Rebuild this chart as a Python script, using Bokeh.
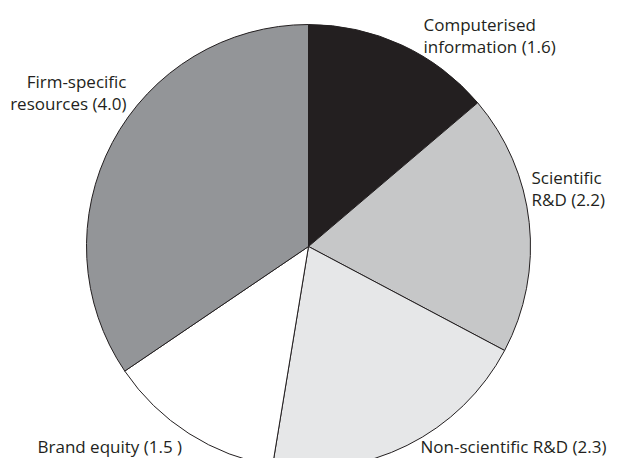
import math
from bokeh.plotting import figure
from bokeh.models import Range1d, ColumnDataSource
from bokeh.core.properties import value
from bokeh.embed import file_html
from bokeh.resources import INLINE

# Data
categories = ["Computerised information", "Scientific R&D", "Non-scientific R&D",
              "Brand equity", "Firm-specific resources"]
values = [1.6, 2.2, 2.3, 1.5, 4.0]
label_lines = [["Computerised", "information (1.6)"],
               ["Scientific", "R&D (2.2)"],
               ["Non-scientific R&D (2.3)"],
               ["Brand equity (1.5 )"],
               ["Firm-specific", "resources (4.0)"]]
colors = ["#231f20", "#c6c7c8", "#e6e7e8", "#ffffff", "#939598"]

# figure fits the 622x466 window after the 8px page margin
W, H = 614, 458
REF_H = 466
p = figure(width=W, height=H, output_backend="svg", toolbar_location=None,
           x_range=Range1d(0, W), y_range=Range1d(REF_H - H, REF_H),
           min_border=0)
p.axis.visible = False
p.grid.visible = False
p.outline_line_color = None
p.background_fill_color = "white"

cx, cy, r = 308, REF_H - 246, 222
total = sum(values)
starts, ends = [], []
cum = 0.0
for v in values:
    starts.append(math.pi / 2 - cum / total * 2 * math.pi)
    cum += v
    ends.append(math.pi / 2 - cum / total * 2 * math.pi)

src = ColumnDataSource(dict(start=starts, end=ends, color=colors, cat=categories))
p.wedge(x=cx, y=cy, radius=r, start_angle="start", end_angle="end", direction="clock",
        fill_color="color", line_color="#231f20", line_width=1, source=src)

# label anchor positions (pixel x, first-line anchor from top), alignment
anchors = [(423, 24, "left"), (531, 177, "left"), (420, 446, "left"),
           (37, 446, "left"), (126, 81, "right")]
tx, ty, tt, ta = [], [], [], []
for lines, (ax, ay, al) in zip(label_lines, anchors):
    for i, ln in enumerate(lines):
        tx.append(ax)
        ty.append(REF_H - (ay + i * 22))
        tt.append(ln)
        ta.append(al)
tsrc = ColumnDataSource(dict(x=tx, y=ty, t=tt, a=ta))
p.text(x="x", y="y", text="t", text_align="a", text_baseline="alphabetic",
       text_font=value("Open Sans"), text_font_size="17px", text_color="#231f20",
       source=tsrc)

open("out.html", "w").write(file_html(p, INLINE))
